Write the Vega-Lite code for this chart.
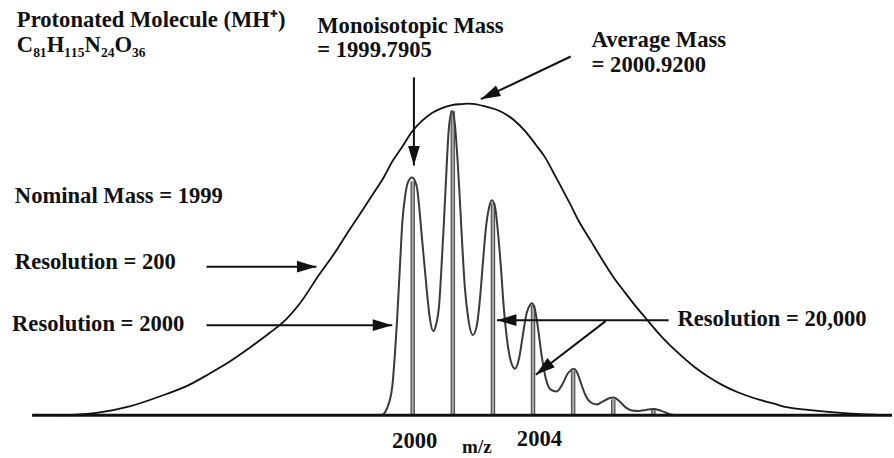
{
  "$schema": "https://vega.github.io/schema/vega-lite/v6.json",
  "width": 894,
  "height": 458,
  "autosize": {"type": "fit", "contains": "padding"},
  "padding": 0,
  "background": "white",
  "config": {"view": {"stroke": null}},
  "datasets": {
    "envelope": [
      {"mz": 1991.20, "intensity": 0}, {"mz": 1992.20, "intensity": 0.97}, {"mz": 1992.94, "intensity": 2.90},
      {"mz": 1993.69, "intensity": 6.13}, {"mz": 1994.44, "intensity": 10.0}, {"mz": 1994.93, "intensity": 13.55},
      {"mz": 1995.43, "intensity": 17.42}, {"mz": 1995.93, "intensity": 21.94}, {"mz": 1996.43, "intensity": 26.77},
      {"mz": 1996.85, "intensity": 31.29}, {"mz": 1997.17, "intensity": 36.13}, {"mz": 1997.67, "intensity": 45.81},
      {"mz": 1998.04, "intensity": 52.58}, {"mz": 1998.34, "intensity": 58.71}, {"mz": 1998.67, "intensity": 65.16},
      {"mz": 1998.99, "intensity": 71.61}, {"mz": 1999.29, "intensity": 77.74}, {"mz": 1999.49, "intensity": 82.58},
      {"mz": 1999.74, "intensity": 87.42}, {"mz": 1999.98, "intensity": 92.26}, {"mz": 2000.23, "intensity": 95.81},
      {"mz": 2000.48, "intensity": 98.39}, {"mz": 2000.73, "intensity": 100.0}, {"mz": 2000.98, "intensity": 100.97},
      {"mz": 2001.23, "intensity": 101.29}, {"mz": 2001.40, "intensity": 101.45}, {"mz": 2001.78, "intensity": 100.65},
      {"mz": 2002.22, "intensity": 98.71}, {"mz": 2002.52, "intensity": 96.13}, {"mz": 2002.82, "intensity": 92.26},
      {"mz": 2003.07, "intensity": 88.06}, {"mz": 2003.32, "intensity": 83.55}, {"mz": 2003.52, "intensity": 78.71},
      {"mz": 2003.72, "intensity": 73.87}, {"mz": 2003.94, "intensity": 68.39}, {"mz": 2004.14, "intensity": 63.23},
      {"mz": 2004.44, "intensity": 56.77}, {"mz": 2004.71, "intensity": 50.97}, {"mz": 2005.01, "intensity": 44.84},
      {"mz": 2005.31, "intensity": 39.68}, {"mz": 2005.56, "intensity": 35.48}, {"mz": 2005.81, "intensity": 31.61},
      {"mz": 2006.08, "intensity": 27.42}, {"mz": 2006.38, "intensity": 23.23}, {"mz": 2006.70, "intensity": 19.35},
      {"mz": 2007.05, "intensity": 15.48}, {"mz": 2007.37, "intensity": 12.58}, {"mz": 2007.70, "intensity": 10.0},
      {"mz": 2008.12, "intensity": 7.42}, {"mz": 2008.54, "intensity": 5.48}, {"mz": 2008.99, "intensity": 3.87},
      {"mz": 2009.36, "intensity": 2.58}, {"mz": 2009.86, "intensity": 1.77}, {"mz": 2010.36, "intensity": 1.13},
      {"mz": 2010.85, "intensity": 0.65}, {"mz": 2011.35, "intensity": 0.32}, {"mz": 2011.85, "intensity": 0}
    ],
    "medium": [
      {"mz": 1999.24, "intensity": 0}, {"mz": 1999.36, "intensity": 2.26}, {"mz": 1999.49, "intensity": 9.35},
      {"mz": 1999.56, "intensity": 20.65}, {"mz": 1999.61, "intensity": 30.97}, {"mz": 1999.69, "intensity": 50.65},
      {"mz": 1999.74, "intensity": 62.58}, {"mz": 1999.81, "intensity": 71.29}, {"mz": 1999.88, "intensity": 75.81},
      {"mz": 1999.98, "intensity": 77.42}, {"mz": 2000.06, "intensity": 76.13}, {"mz": 2000.11, "intensity": 73.87},
      {"mz": 2000.16, "intensity": 68.06}, {"mz": 2000.23, "intensity": 57.74}, {"mz": 2000.31, "intensity": 46.45},
      {"mz": 2000.36, "intensity": 39.35}, {"mz": 2000.43, "intensity": 31.29}, {"mz": 2000.51, "intensity": 27.42},
      {"mz": 2000.58, "intensity": 29.35}, {"mz": 2000.66, "intensity": 36.13}, {"mz": 2000.73, "intensity": 51.29},
      {"mz": 2000.78, "intensity": 63.23}, {"mz": 2000.85, "intensity": 81.94}, {"mz": 2000.90, "intensity": 93.23},
      {"mz": 2000.98, "intensity": 99.03}, {"mz": 2001.05, "intensity": 94.84}, {"mz": 2001.10, "intensity": 86.77},
      {"mz": 2001.18, "intensity": 69.03}, {"mz": 2001.23, "intensity": 56.77}, {"mz": 2001.30, "intensity": 41.61},
      {"mz": 2001.38, "intensity": 31.94}, {"mz": 2001.50, "intensity": 26.13}, {"mz": 2001.60, "intensity": 29.35},
      {"mz": 2001.68, "intensity": 38.39}, {"mz": 2001.75, "intensity": 49.68}, {"mz": 2001.82, "intensity": 60.32},
      {"mz": 2001.90, "intensity": 67.42}, {"mz": 2001.97, "intensity": 70.0}, {"mz": 2002.05, "intensity": 68.06},
      {"mz": 2002.12, "intensity": 60.32}, {"mz": 2002.20, "intensity": 48.06}, {"mz": 2002.27, "intensity": 35.16},
      {"mz": 2002.35, "intensity": 24.84}, {"mz": 2002.45, "intensity": 17.42}, {"mz": 2002.55, "intensity": 15.16},
      {"mz": 2002.65, "intensity": 18.39}, {"mz": 2002.75, "intensity": 26.45}, {"mz": 2002.84, "intensity": 33.23},
      {"mz": 2002.92, "intensity": 35.81}, {"mz": 2002.97, "intensity": 36.45}, {"mz": 2003.04, "intensity": 34.84},
      {"mz": 2003.12, "intensity": 28.71}, {"mz": 2003.22, "intensity": 19.03}, {"mz": 2003.32, "intensity": 11.94},
      {"mz": 2003.44, "intensity": 8.39}, {"mz": 2003.59, "intensity": 7.74}, {"mz": 2003.74, "intensity": 10.32},
      {"mz": 2003.86, "intensity": 13.55}, {"mz": 2003.96, "intensity": 14.84}, {"mz": 2004.01, "intensity": 15.16},
      {"mz": 2004.09, "intensity": 14.19}, {"mz": 2004.19, "intensity": 10.65}, {"mz": 2004.31, "intensity": 6.45},
      {"mz": 2004.44, "intensity": 4.19}, {"mz": 2004.59, "intensity": 3.55}, {"mz": 2004.74, "intensity": 4.52},
      {"mz": 2004.88, "intensity": 5.48}, {"mz": 2005.01, "intensity": 5.81}, {"mz": 2005.16, "intensity": 4.52},
      {"mz": 2005.31, "intensity": 2.58}, {"mz": 2005.46, "intensity": 1.61}, {"mz": 2005.63, "intensity": 1.45},
      {"mz": 2005.81, "intensity": 1.77}, {"mz": 2006.00, "intensity": 2.10}, {"mz": 2006.20, "intensity": 1.45},
      {"mz": 2006.43, "intensity": 0.32}, {"mz": 2006.63, "intensity": 0}
    ],
    "sticks": [
      {"mz": 2000, "intensity": 76.1}, {"mz": 2001, "intensity": 99.0}, {"mz": 2002, "intensity": 69.0},
      {"mz": 2003, "intensity": 35.8}, {"mz": 2004, "intensity": 14.5}, {"mz": 2005, "intensity": 5.2},
      {"mz": 2006, "intensity": 2.3}
    ],
    "baseline": [{"mz": 1990.51, "mz2": 2011.95, "intensity": 0}],
    "arrows": [
      {"name": "mono", "mz": 2000.03, "intensity": 110.0, "mz2": 2000.03, "intensity2": 81.29},
      {"name": "avg", "mz": 2003.94, "intensity": 116.77, "mz2": 2001.70, "intensity2": 102.90},
      {"name": "r200", "mz": 1994.86, "intensity": 48.39, "mz2": 1997.60, "intensity2": 48.39},
      {"name": "r2000", "mz": 1994.86, "intensity": 29.35, "mz2": 1999.49, "intensity2": 29.35},
      {"name": "r20000a", "mz": 2006.38, "intensity": 30.97, "mz2": 2002.10, "intensity2": 30.97},
      {"name": "r20000b", "mz": 2004.81, "intensity": 30.65, "mz2": 2003.07, "intensity2": 13.23}
    ],
    "labels": [
      {"label": "Protonated Molecule (MH⁺)", "mz": 1990.13, "intensity": 126.45},
      {"label": "C₈₁H₁₁₅N₂₄O₃₆", "mz": 1990.13, "intensity": 118.1},
      {"label": "Monoisotopic Mass", "mz": 1997.62, "intensity": 124.52},
      {"label": "= 1999.7905", "mz": 1997.62, "intensity": 116.77},
      {"label": "Average Mass", "mz": 2004.46, "intensity": 120.0},
      {"label": "= 2000.9200", "mz": 2004.46, "intensity": 111.61},
      {"label": "Nominal Mass = 1999", "mz": 1990.08, "intensity": 69.03},
      {"label": "Resolution = 200", "mz": 1990.08, "intensity": 47.74},
      {"label": "Resolution = 2000", "mz": 1990.01, "intensity": 27.42},
      {"label": "Resolution = 20,000", "mz": 2006.60, "intensity": 29.03}
    ],
    "ticks": [
      {"label": "2000", "mz": 2000.05, "intensity": -10.65},
      {"label": "2004", "mz": 2003.16, "intensity": -10.0}
    ],
    "axisTitle": [
      {"label": "m/z", "mz": 2001.60, "intensity": -12.4}
    ]
  },
  "encoding": {
    "x": {"field": "mz", "type": "quantitative", "axis": null,
          "scale": {"domain": [1989.71, 2011.95], "nice": false, "zero": false}},
    "y": {"field": "intensity", "type": "quantitative", "axis": null,
          "scale": {"domain": [-12.58, 135.16], "nice": false, "zero": false}}
  },
  "layer": [
    {"data": {"name": "sticks"},
     "mark": {"type": "rule", "color": "#555555", "strokeWidth": 4.5},
     "encoding": {"y2": {"datum": 0}}},
    {"data": {"name": "sticks"},
     "mark": {"type": "rule", "color": "#a8a8a8", "strokeWidth": 2},
     "encoding": {"y2": {"datum": 0}}},
    {"data": {"name": "medium"},
     "mark": {"type": "line", "color": "#3a3a3a", "strokeWidth": 2, "interpolate": "monotone"}},
    {"data": {"name": "envelope"},
     "mark": {"type": "line", "color": "#111111", "strokeWidth": 1.8, "interpolate": "monotone"}},
    {"data": {"name": "baseline"},
     "mark": {"type": "rule", "color": "#111111", "strokeWidth": 3},
     "encoding": {"x2": {"field": "mz2"}}},
    {"data": {"name": "arrows"},
     "mark": {"type": "rule", "color": "#111111", "strokeWidth": 2},
     "encoding": {"x2": {"field": "mz2"}, "y2": {"field": "intensity2"}}},
    {"data": {"name": "arrows"},
     "transform": [{"filter": "datum.name === 'r200' || datum.name === 'r2000'"}],
     "mark": {"type": "point", "shape": "M0,0L-2,-0.6L-2,0.6Z", "size": 380, "filled": true, "color": "#111111", "opacity": 1, "angle": 0},
     "encoding": {"x": {"field": "mz2", "type": "quantitative"}, "y": {"field": "intensity2", "type": "quantitative"}}},
    {"data": {"name": "arrows"},
     "transform": [{"filter": "datum.name === 'mono'"}],
     "mark": {"type": "point", "shape": "M0,0L-2,-0.6L-2,0.6Z", "size": 380, "filled": true, "color": "#111111", "opacity": 1, "angle": 90},
     "encoding": {"x": {"field": "mz2", "type": "quantitative"}, "y": {"field": "intensity2", "type": "quantitative"}}},
    {"data": {"name": "arrows"},
     "transform": [{"filter": "datum.name === 'r20000a'"}],
     "mark": {"type": "point", "shape": "M0,0L-2,-0.6L-2,0.6Z", "size": 380, "filled": true, "color": "#111111", "opacity": 1, "angle": 180},
     "encoding": {"x": {"field": "mz2", "type": "quantitative"}, "y": {"field": "intensity2", "type": "quantitative"}}},
    {"data": {"name": "arrows"},
     "transform": [{"filter": "datum.name === 'avg'"}],
     "mark": {"type": "point", "shape": "M0,0L-2,-0.6L-2,0.6Z", "size": 380, "filled": true, "color": "#111111", "opacity": 1, "angle": 154.5},
     "encoding": {"x": {"field": "mz2", "type": "quantitative"}, "y": {"field": "intensity2", "type": "quantitative"}}},
    {"data": {"name": "arrows"},
     "transform": [{"filter": "datum.name === 'r20000b'"}],
     "mark": {"type": "point", "shape": "M0,0L-2,-0.6L-2,0.6Z", "size": 380, "filled": true, "color": "#111111", "opacity": 1, "angle": 141.8},
     "encoding": {"x": {"field": "mz2", "type": "quantitative"}, "y": {"field": "intensity2", "type": "quantitative"}}},
    {"data": {"name": "labels"},
     "mark": {"type": "text", "align": "left", "baseline": "alphabetic", "font": "Liberation Serif", "fontWeight": "bold", "fontSize": 22.6, "color": "#111111"},
     "encoding": {"text": {"field": "label"}}},
    {"data": {"name": "ticks"},
     "mark": {"type": "text", "align": "center", "baseline": "alphabetic", "font": "Liberation Serif", "fontWeight": "bold", "fontSize": 22.6, "color": "#111111"},
     "encoding": {"text": {"field": "label"}}},
    {"data": {"name": "axisTitle"},
     "mark": {"type": "text", "align": "center", "baseline": "alphabetic", "font": "Liberation Serif", "fontWeight": "bold", "fontSize": 19, "color": "#111111"},
     "encoding": {"text": {"field": "label"}}}
  ]
}
